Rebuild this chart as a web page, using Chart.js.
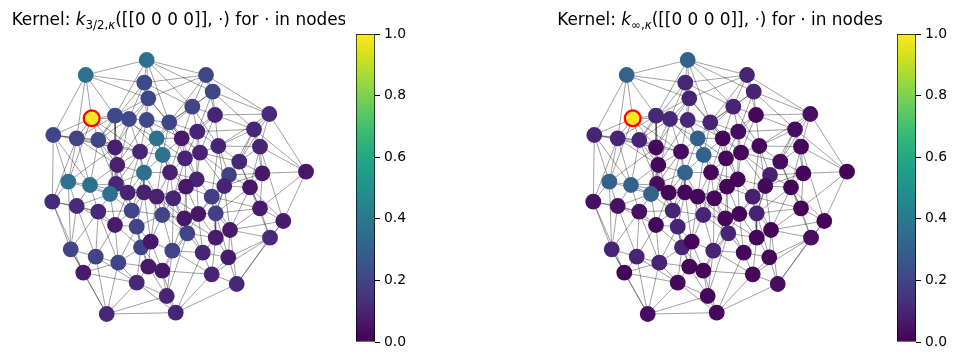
<!DOCTYPE html>
<html>
<head>
<meta charset="utf-8">
<script src="https://cdn.jsdelivr.net/npm/chart.js@4.4.0/dist/chart.umd.min.js"></script>
<style>
  body { margin: 0; background: #fff; }
  #wrap { position: relative; width: 953px; height: 360px; background: #fff; }
  canvas { position: absolute; }
</style>
</head>
<body>
<div id="wrap">
  <canvas id="g1" width="345" height="360" style="left:0;top:0"></canvas>
  <canvas id="c1" width="60" height="324" style="left:356px;top:26px"></canvas>
  <canvas id="g2" width="345" height="360" style="left:541px;top:0"></canvas>
  <canvas id="c2" width="60" height="324" style="left:897px;top:26px"></canvas>
</div>
<script>
// node layout positions
const nodeX = [146.7,85.7,206,144.3,212.7,148.3,192.3,91.7,115,129,146.7,169.3,215,269.3,53.3,76.7,98.3,156.7,181.7,197.3,
  254,115,140,162.7,185,200,218.3,260,117.3,239.3,144,170,196.7,229,262.3,306,68.3,90,116,186,
  224.3,250,110,127.7,144,156.7,173.3,211.7,52.3,76.7,98.3,131.7,162.3,184.3,198.3,215.7,260,283.3,115,136.7,
  187.3,215.7,230,270,70.7,95.7,118.3,141,150.7,172.3,202.7,228.3,83.3,148.3,162.3,136.7,211.7,236.7,166.7,106.7,175.7];
const nodeY = [60,75,75,82.7,91.7,98.3,106.7,118.3,115.7,119,120,122.3,115,114,135,138.3,140,138.3,138.3,131.7,
  129.3,147.3,151.7,155,158.3,152.7,146,146.7,165,161.7,172.7,172.3,179.3,175,173.3,171.7,181.7,185,184,186.7,
  186,187.3,194,192.7,192.3,196.7,198.3,196.7,201.7,206,211.7,210.7,215,218.3,214,213.3,208.3,221,225,226.7,
  233.3,237.7,230,237.7,249.3,256.7,262.7,247.3,241.7,250.7,252.7,257.3,272.7,266.7,270.7,282.7,274.3,284,296,314,312.7];

// kernel values per node
const kernel32 = [0.37,0.37,0.21,0.22,0.21,0.21,0.21,1.0,0.22,0.22,0.22,0.21,0.10,0.12,0.20,0.20,0.21,0.38,0.07,0.10,
  0.11,0.08,0.11,0.38,0.10,0.10,0.10,0.10,0.09,0.11,0.37,0.09,0.10,0.19,0.06,0.06,0.37,0.37,0.11,0.06,
  0.10,0.06,0.37,0.10,0.09,0.09,0.10,0.18,0.12,0.12,0.11,0.20,0.20,0.06,0.06,0.19,0.07,0.07,0.07,0.20,
  0.20,0.07,0.07,0.12,0.20,0.20,0.20,0.20,0.06,0.20,0.10,0.07,0.07,0.06,0.06,0.11,0.10,0.11,0.10,0.11,0.10];
const kernelInf = [0.31,0.31,0.10,0.11,0.10,0.10,0.10,1.0,0.11,0.11,0.11,0.10,0.02,0.04,0.10,0.10,0.10,0.31,0.01,0.03,
  0.03,0.02,0.03,0.31,0.02,0.02,0.02,0.02,0.02,0.03,0.31,0.02,0.02,0.09,0.01,0.01,0.31,0.31,0.03,0.01,
  0.02,0.01,0.31,0.02,0.02,0.02,0.02,0.08,0.04,0.04,0.04,0.10,0.10,0.01,0.01,0.09,0.01,0.01,0.01,0.10,
  0.10,0.01,0.01,0.04,0.10,0.10,0.10,0.10,0.01,0.10,0.02,0.01,0.01,0.01,0.01,0.02,0.02,0.03,0.02,0.03,0.02];
const sourceNode = 8;

const edges = [
  [1,2],[1,3],[1,4],[1,6],[1,9],[1,5],[1,7],[1,12],
  [2,4],[2,6],[2,8],[2,9],[2,15],[2,16],
  [3,4],[3,5],[3,14],[3,7],[3,13],[3,6],[3,12],
  [4,6],[4,10],[4,11],[4,7],[4,17],
  [5,7],[5,13],[5,14],[5,20],[5,21],[5,12],
  [6,10],[6,11],[6,12],[6,9],[6,19],[6,22],
  [7,12],[7,13],[7,19],[7,20],[7,18],[7,27],
  [8,9],[8,15],[8,16],[8,17],[8,10],[8,22],[8,23],[8,37],
  [9,10],[9,16],[9,17],[9,22],[9,18],[9,29],
  [10,11],[10,17],[10,22],[10,23],[10,24],[10,39],
  [11,12],[11,18],[11,23],[11,24],[11,19],[11,29],
  [12,18],[12,19],[12,20],[12,25],[12,26],[12,24],
  [13,14],[13,20],[13,21],[13,27],[13,26],[13,19],
  [14,21],[14,28],[14,36],[14,27],[14,30],
  [15,16],[15,17],[15,37],[15,49],[15,38],[15,22],
  [16,17],[16,22],[16,37],[16,38],[16,29],[16,49],
  [17,22],[17,23],[17,29],[17,38],[17,39],
  [18,19],[18,23],[18,24],[18,25],[18,31],[18,32],
  [19,20],[19,25],[19,26],[19,24],[19,32],[19,33],
  [20,26],[20,27],[20,21],[20,25],[20,33],
  [21,27],[21,28],[21,30],[21,35],[21,36],[21,34],
  [22,23],[22,29],[22,39],[22,37],[22,43],
  [23,24],[23,29],[23,31],[23,39],[23,44],[23,45],
  [24,25],[24,31],[24,32],[24,46],[24,40],
  [25,26],[25,32],[25,33],[25,40],[25,47],
  [26,27],[26,33],[26,34],[26,30],[26,41],
  [27,30],[27,34],[27,28],[27,41],[27,48],
  [28,30],[28,35],[28,36],[28,58],[28,42],
  [29,31],[29,39],[29,38],[29,43],[29,44],
  [30,34],[30,35],[30,42],[30,41],[30,57],
  [31,32],[31,44],[31,45],[31,46],[31,39],[31,52],
  [32,33],[32,40],[32,46],[32,47],[32,53],
  [33,40],[33,41],[33,47],[33,48],[33,55],
  [34,35],[34,41],[34,42],[34,48],[34,56],
  [35,36],[35,42],[35,57],[35,41],
  [36,57],[36,58],
  [37,38],[37,49],[37,50],[37,43],[37,65],
  [38,39],[38,43],[38,50],[38,51],[38,44],
  [39,43],[39,44],[39,45],[39,52],
  [40,47],[40,46],[40,54],[40,55],[40,48],[40,61],
  [41,42],[41,48],[41,56],[41,63],[41,55],
  [42,57],[42,56],[42,63],[42,64],[42,58],
  [43,44],[43,51],[43,52],[43,59],[43,50],
  [44,45],[44,52],[44,59],[44,60],
  [45,46],[45,52],[45,53],[45,60],[45,69],
  [46,47],[46,53],[46,54],[46,61],[46,69],
  [47,53],[47,54],[47,55],[47,61],[47,70],
  [48,55],[48,56],[48,62],[48,57],[48,63],
  [49,50],[49,65],[49,51],[49,73],
  [50,51],[50,65],[50,66],[50,59],
  [51,59],[51,66],[51,52],[51,67],[51,65],
  [52,59],[52,60],[52,68],[52,53],
  [53,60],[53,69],[53,70],[53,61],[53,54],
  [54,55],[54,61],[54,70],[54,71],[54,62],
  [55,56],[55,61],[55,62],[55,71],
  [56,62],[56,63],[56,57],[56,72],
  [57,58],[57,63],[57,64],
  [58,64],[58,63],[58,78],
  [59,60],[59,66],[59,67],[59,68],
  [60,67],[60,68],[60,69],[60,74],
  [61,70],[61,71],[61,62],[61,75],[61,79],
  [62,63],[62,71],[62,72],[62,77],
  [63,64],[63,72],[63,78],
  [64,72],[64,78],[64,77],
  [65,66],[65,73],[65,80],
  [66,67],[66,73],[66,80],[66,76],
  [67,68],[67,74],[67,76],[67,80],[67,73],
  [68,69],[68,74],[68,76],[68,75],
  [69,70],[69,74],[69,75],
  [70,71],[70,75],[70,79],[70,77],
  [71,72],[71,77],[71,81],
  [72,77],[72,78],
  [73,80],[73,76],
  [74,75],[74,76],[74,79],
  [75,79],[75,81],[75,77],
  [76,79],[76,80],[76,81],
  [77,78],[77,81],
  [78,81],[79,81],[79,80],[80,81]
];

const cbarTicks = [0, 0.2, 0.4, 0.6, 0.8, 1.0];

// viridis colormap
const viridis = ['#440154','#48186a','#472d7b','#424086','#3b528b','#33638d','#2c728e','#26828e','#21918c',
  '#1fa088','#28ae80','#3fbc73','#5ec962','#84d44b','#addc30','#d8e219','#fde725'];
function hex2rgb(h) { return [parseInt(h.slice(1,3),16), parseInt(h.slice(3,5),16), parseInt(h.slice(5,7),16)]; }
function cmap(v) {
  v = Math.max(0, Math.min(1, v));
  const p = v * (viridis.length - 1);
  const i = Math.min(Math.floor(p), viridis.length - 2);
  const t = p - i;
  const a = hex2rgb(viridis[i]), b = hex2rgb(viridis[i + 1]);
  const c = a.map((x, k) => Math.round(x + (b[k] - x) * t));
  return 'rgb(' + c.join(',') + ')';
}

function titlePlugin(subMain) {
  return {
    id: 'mathTitle',
    afterDraw(chart) {
      const c = chart.ctx;
      const fs = 16.9, ss = 11.8;
      const fam = '"DejaVu Sans"';
      const parts = [
        { t: 'Kernel: ', f: fs + 'px ' + fam, dy: 0 },
        { t: 'k', f: 'oblique ' + fs + 'px ' + fam, dy: 0 },
        { t: subMain, f: ss + 'px ' + fam, dy: 3.6 },
        { t: '\u03ba', f: 'oblique ' + ss + 'px ' + fam, dy: 3.6 },
        { t: '([[0 0 0 0]], ', f: fs + 'px ' + fam, dy: 0 },
        { t: '\u22c5', f: fs + 'px ' + fam, dy: 0 },
        { t: ') for ', f: fs + 'px ' + fam, dy: 0 },
        { t: '\u22c5', f: fs + 'px ' + fam, dy: 0 },
        { t: ' in nodes', f: fs + 'px ' + fam, dy: 0 }
      ];
      c.save();
      c.fillStyle = '#000';
      c.textBaseline = 'alphabetic';
      let w = 0;
      parts.forEach(p => { c.font = p.f; p.w = c.measureText(p.t).width; w += p.w; });
      let x = 179 - w / 2;
      const y = 25;
      parts.forEach(p => { c.font = p.f; c.fillText(p.t, x, y + p.dy); x += p.w; });
      c.restore();
    }
  };
}

function graphChart(id, values, sub) {
  const pts = nodeX.map((x, i) => ({ x: x, y: nodeY[i] }));
  const edgePts = [];
  edges.forEach(e => {
    edgePts.push({ x: nodeX[e[0] - 1], y: nodeY[e[0] - 1] });
    edgePts.push({ x: nodeX[e[1] - 1], y: nodeY[e[1] - 1] });
    edgePts.push({ x: null, y: null });
  });
  const s = sourceNode - 1;
  return new Chart(document.getElementById(id), {
    type: 'scatter',
    data: {
      datasets: [
        {
          data: [pts[s]],
          pointRadius: 7.9,
          pointBackgroundColor: cmap(values[s]),
          pointBorderColor: '#ff0000',
          pointBorderWidth: 2.3,
          order: 0
        },
        {
          data: pts,
          pointRadius: 7.9,
          pointBackgroundColor: values.map(cmap),
          pointBorderWidth: 0,
          order: 1
        },
        {
          type: 'line',
          data: edgePts,
          borderColor: 'rgba(0,0,0,0.58)',
          borderWidth: 0.65,
          pointRadius: 0,
          spanGaps: false,
          fill: false,
          tension: 0,
          order: 2
        }
      ]
    },
    options: {
      responsive: false,
      animation: false,
      events: [],
      layout: { padding: 0, autoPadding: false },
      plugins: { legend: { display: false }, tooltip: { enabled: false } },
      scales: {
        x: { type: 'linear', min: 0, max: 345, display: false },
        y: { type: 'linear', min: 0, max: 360, reverse: true, display: false }
      }
    },
    plugins: [titlePlugin(sub)]
  });
}

function colorbar(id) {
  return new Chart(document.getElementById(id), {
    type: 'bar',
    data: {
      labels: [''],
      datasets: [{
        data: [[cbarTicks[0], cbarTicks[cbarTicks.length - 1]]],
        backgroundColor: ctx => {
          const ca = ctx.chart.chartArea;
          if (!ca) return '#fff';
          const g = ctx.chart.ctx.createLinearGradient(0, ca.bottom, 0, ca.top);
          viridis.forEach((col, i) => g.addColorStop(i / (viridis.length - 1), col));
          return g;
        },
        borderColor: '#000',
        borderWidth: 1,
        borderSkipped: false,
        barPercentage: 1,
        categoryPercentage: 1
      }]
    },
    options: {
      responsive: false,
      animation: false,
      events: [],
      layout: { padding: { top: 8, bottom: 8, left: 0, right: 0 }, autoPadding: false },
      plugins: { legend: { display: false }, tooltip: { enabled: false } },
      scales: {
        x: { display: false },
        y: {
          position: 'right',
          min: 0, max: 1,
          afterBuildTicks: sc => { sc.ticks = cbarTicks.map(v => ({ value: v })); },
          afterFit: sc => { sc.width = 41; sc.paddingTop = 0; sc.paddingBottom = 0; },
          ticks: {
            color: '#000',
            padding: 4,
            font: { family: 'DejaVu Sans', size: 13.9 },
            callback: v => Number(v).toFixed(1)
          },
          grid: { drawOnChartArea: false, drawTicks: true, tickLength: 5, color: '#000', lineWidth: 1 },
          border: { display: false }
        }
      }
    }
  });
}

graphChart('g1', kernel32, '3/2,');
colorbar('c1');
graphChart('g2', kernelInf, '\u221e,');
colorbar('c2');
</script>
</body>
</html>
